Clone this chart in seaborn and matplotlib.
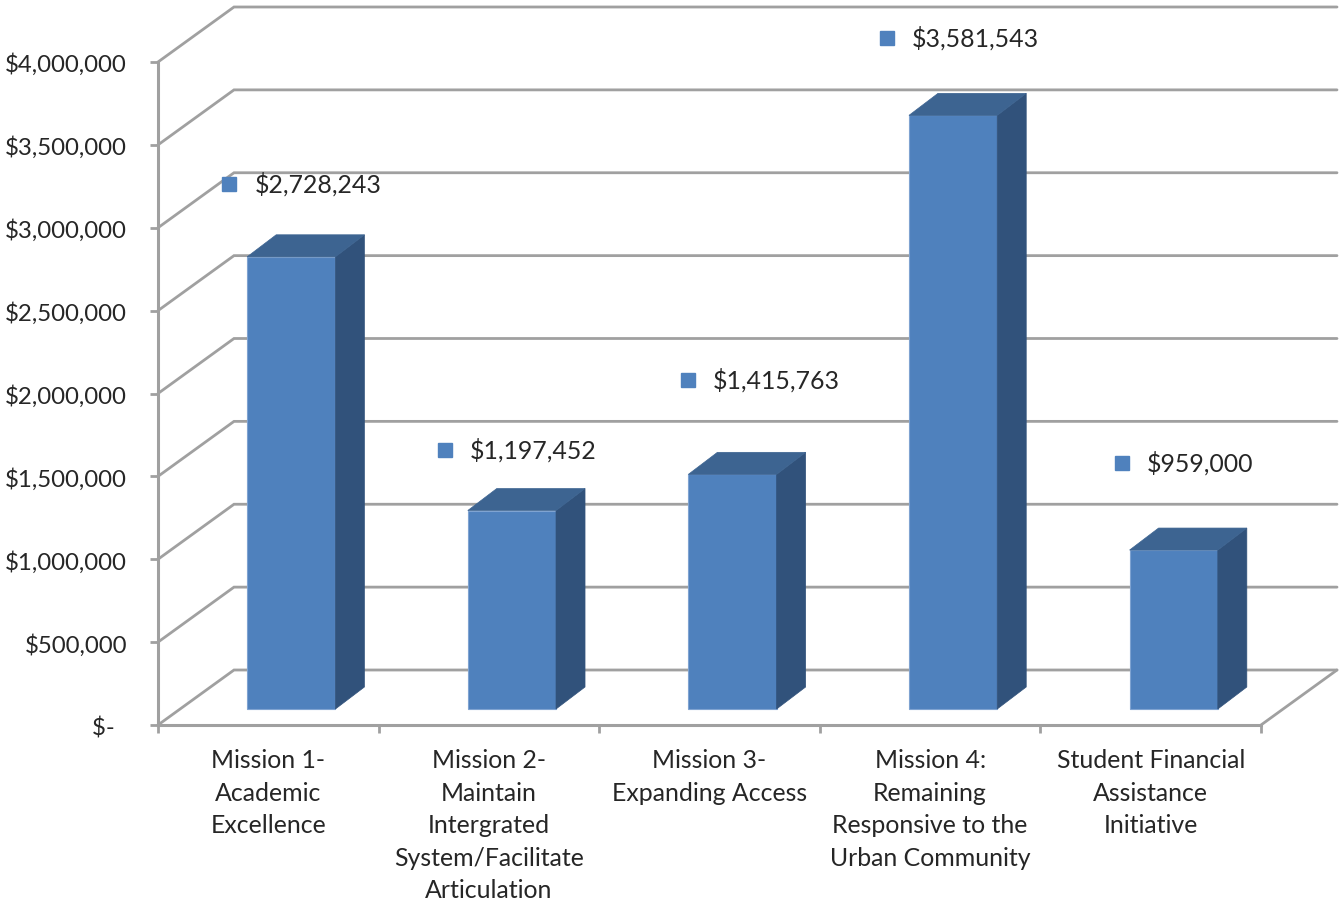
import matplotlib
matplotlib.use("Agg")

import pandas as pd
import matplotlib.pyplot as plt
import seaborn as sns
from matplotlib.patches import Polygon
from matplotlib.transforms import ScaledTranslation

categories = [
    "Mission 1-\nAcademic\nExcellence",
    "Mission 2-\nMaintain\nIntergrated\nSystem/Facilitate\nArticulation",
    "Mission 3-\nExpanding Access",
    "Mission 4:\nRemaining\nResponsive to the\nUrban Community",
    "Student Financial\nAssistance\nInitiative",
]
amounts = [2728243, 1197452, 1415763, 3581543, 959000]
amount_labels = ["$2,728,243", "$1,197,452", "$1,415,763", "$3,581,543", "$959,000"]
y_ticks = [0, 500000, 1000000, 1500000, 2000000, 2500000, 3000000, 3500000, 4000000]
y_tick_labels = ["$-  ", "$500,000", "$1,000,000", "$1,500,000", "$2,000,000",
                 "$2,500,000", "$3,000,000", "$3,500,000", "$4,000,000"]

# pixel offset of each data label's square from the (category, value) point
label_offsets = [(-39, 89), (-44, 77), (-22, 110), (-43, 93), (-29, 103)]

W, H = 1339, 909
LEFT, RIGHT, TOP, BOTTOM = 158, 1261, 62, 725
GREY = "#A0A0A0"
TEXT = "#262626"
FRONT = "#4F81BD"
TOP_FACE = "#3D6491"
SIDE_FACE = "#31527B"

sns.set_theme(style="white")
plt.rcParams["font.family"] = ["Lato", "DejaVu Sans"]

fig = plt.figure(figsize=(W / 100, H / 100), dpi=100)
ax = fig.add_axes([LEFT / W, 1 - BOTTOM / H, (RIGHT - LEFT) / W, (BOTTOM - TOP) / H])
ax.patch.set_alpha(0)

df = pd.DataFrame({"category": categories, "amount": amounts})
sns.barplot(data=df, x="category", y="amount", color=FRONT, saturation=1,
            width=0.4, ax=ax, zorder=3)

ax.set_xlim(-0.5, 4.5)
ax.set_ylim(0, 4000000)

# pixels to data units, for the fake 3D depth
px_x = 5 / (RIGHT - LEFT)
px_y = 4000000 / (BOTTOM - TOP)

# back wall lines and the diagonals running to them
wall_dx, wall_dy = 76 * px_x, 55 * px_y
for v in y_ticks:
    ax.plot([-0.5, -0.5 + wall_dx, 4.5 + wall_dx], [v, v + wall_dy, v + wall_dy],
            color=GREY, lw=2, clip_on=False, zorder=1, solid_joinstyle="miter")
ax.plot([4.5, 4.5 + wall_dx], [0, wall_dy], color=GREY, lw=2, clip_on=False, zorder=1)

# shift the bars into the middle of the floor and give them a top and a side
floor_dx, floor_dy = 23 * px_x, 16 * px_y
depth_dx, depth_dy = 29 * px_x, 22 * px_y
for bar in ax.patches[:len(amounts)]:
    bar.set_x(bar.get_x() + floor_dx)
    bar.set_y(floor_dy)
    bar.set_clip_on(False)
    bar.set_edgecolor("#7FA3D1")
    bar.set_linewidth(0.8)
    x0 = bar.get_x()
    x1 = x0 + bar.get_width()
    y0 = floor_dy
    y1 = floor_dy + bar.get_height()
    ax.add_patch(Polygon([(x1, y0), (x1, y1), (x1 + depth_dx, y1 + depth_dy), (x1 + depth_dx, y0 + depth_dy)],
                         facecolor=SIDE_FACE, edgecolor=SIDE_FACE, lw=0.5, clip_on=False, zorder=3))
    ax.add_patch(Polygon([(x0, y1), (x1, y1), (x1 + depth_dx, y1 + depth_dy), (x0 + depth_dx, y1 + depth_dy)],
                         facecolor=TOP_FACE, edgecolor=TOP_FACE, lw=0.5, clip_on=False, zorder=3))

# data labels with their little legend squares
for i, (v, txt, off) in enumerate(zip(amounts, amount_labels, label_offsets)):
    mx = i + off[0] * px_x
    my = v + off[1] * px_y
    ax.plot([mx], [my], marker="s", ms=10.5, color=FRONT, mec=FRONT, ls="none",
            clip_on=False, zorder=5)
    ax.text(mx + 25 * px_x, my - 0.5 * px_y, txt, ha="left", va="center", fontsize=17.9,
            color=TEXT, zorder=5)

# axes
sns.despine(ax=ax)
for side in ["left", "bottom"]:
    ax.spines[side].set_color(GREY)
    ax.spines[side].set_linewidth(2.2)
    ax.spines[side].set_zorder(2)

ax.set_yticks(y_ticks, y_tick_labels)
ax.set_xticks([-0.5, 0.5, 1.5, 2.5, 3.5, 4.5], [""] * 6)
ax.set_xticks([0, 1, 2, 3, 4], categories, minor=True, linespacing=1.5)
ax.tick_params(axis="both", which="major", length=5.8, width=2, color=GREY,
               left=True, bottom=True, direction="out")
ax.tick_params(axis="x", which="minor", length=0, pad=17.5, labelsize=17.9, labelcolor=TEXT)
ax.tick_params(axis="y", which="major", pad=16.5, labelsize=17.3, labelcolor=TEXT)
ax.set_xlabel("")
ax.set_ylabel("")

# y labels sit a little under their ticks
nudge = ScaledTranslation(0, -1 / 100, fig.dpi_scale_trans)
for label in ax.get_yticklabels():
    label.set_transform(label.get_transform() + nudge)

fig.savefig("out.png", dpi=100)
plt.close(fig)
